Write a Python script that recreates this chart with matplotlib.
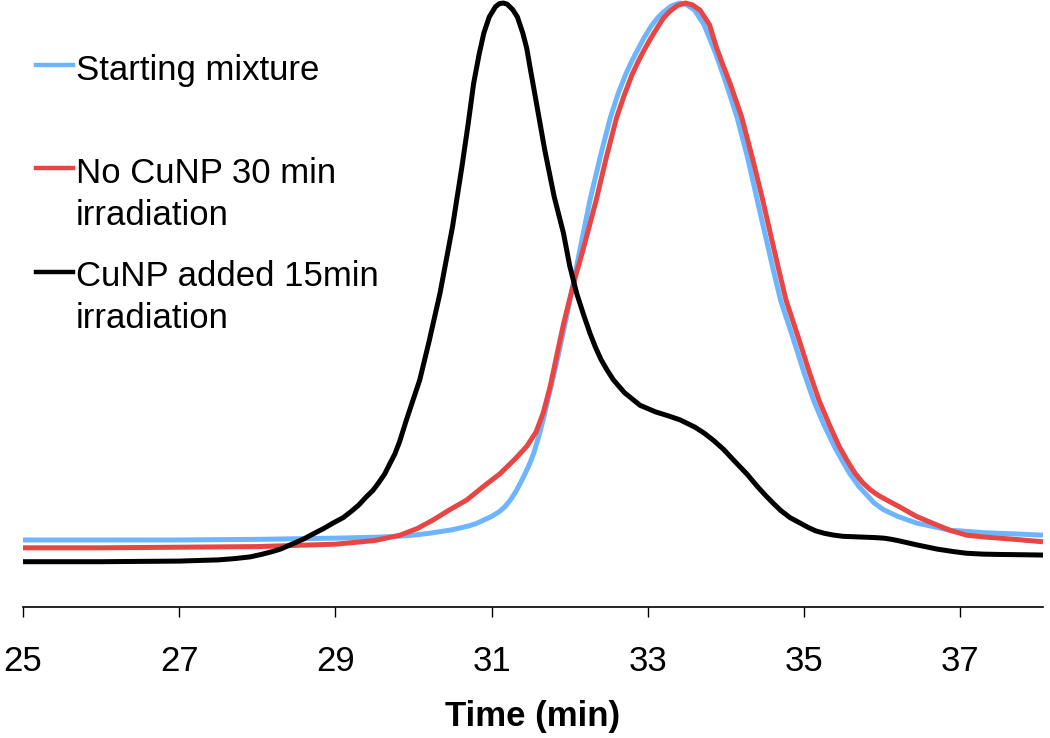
import matplotlib.pyplot as plt
from matplotlib.lines import Line2D

plt.rcParams["font.family"] = ["Liberation Sans", "DejaVu Sans"]

# Starting mixture (blue)
start_x = [25.0, 26.0, 27.0, 28.0, 29.0, 29.5, 29.8, 30.0, 30.2, 30.35, 30.5, 30.6,
           30.7, 30.8, 30.9, 31.0, 31.1, 31.17, 31.24, 31.31, 31.38, 31.44, 31.49,
           31.54, 31.58, 31.62, 31.66, 31.75, 31.85, 31.96, 32.04, 32.13, 32.26,
           32.4, 32.52, 32.62, 32.72, 32.8, 32.86, 32.95, 33.05, 33.13, 33.2, 33.3,
           33.41, 33.5, 33.6, 33.72, 33.84, 33.92, 34.0, 34.14, 34.28, 34.39, 34.5,
           34.6, 34.7, 34.86, 35.0, 35.12, 35.25, 35.4, 35.5, 35.59, 35.7, 35.8, 35.9,
           36.02, 36.2, 36.44, 36.66, 36.87, 37.0, 37.3, 37.7, 38.06]
start_y = [11.1, 11.1, 11.1, 11.2, 11.4, 11.55, 11.7, 11.9, 12.2, 12.5, 12.8, 13.1,
           13.4, 13.8, 14.4, 15.0, 15.8, 16.6, 17.7, 19.1, 20.8, 22.4, 23.8,
           25.5, 27.2, 29.0, 31.0, 35.9, 41.5, 48.1, 53.2, 59.1, 67.4,
           75.0, 81.0, 85.0, 88.3, 90.5, 92.0, 94.2, 96.3, 97.6, 98.5, 99.5,
           100.0, 99.7, 98.8, 96.4, 92.6, 89.8, 86.8, 81.2, 74.3, 68.0, 61.8,
           56.2, 50.8, 44.5, 38.8, 34.3, 30.3, 26.3, 24.0, 22.0, 20.0, 18.6, 17.2,
           16.1, 15.0, 13.9, 13.3, 12.7, 12.6, 12.3, 12.1, 11.9]

# No CuNP 30 min irradiation (red)
nocu_x = [25.0, 26.0, 27.0, 28.0, 29.0, 29.5, 29.83, 30.05, 30.25, 30.45, 30.68, 30.9,
          31.11, 31.3, 31.45, 31.57, 31.66, 31.75, 31.84, 31.92, 32.0, 32.08, 32.17,
          32.34, 32.47, 32.6, 32.7, 32.8, 32.88, 32.94, 33.03, 33.13, 33.2, 33.28,
          33.38, 33.48, 33.57, 33.67, 33.79, 33.88, 33.96, 34.05, 34.2, 34.34, 34.46,
          34.57, 34.67, 34.77, 34.93, 35.07, 35.19, 35.32, 35.45, 35.55, 35.65, 35.75,
          35.85, 35.95, 36.06, 36.22, 36.44, 36.66, 36.87, 37.08, 37.3, 37.7, 38.06]
nocu_y = [9.8, 9.8, 9.9, 10.0, 10.4, 11.0, 11.9, 13.0, 14.4, 16.0, 17.7, 20.0,
          22.1, 24.5, 26.6, 29.0, 32.1, 36.5, 42.0, 46.8, 51.0, 55.0, 59.1,
          67.4, 74.5, 81.0, 84.8, 88.2, 90.4, 91.9, 94.0, 96.1, 97.5, 98.6,
          99.6, 100.0, 99.7, 98.8, 96.4, 92.6, 89.8, 86.8, 81.2, 74.3, 68.0,
          61.8, 56.2, 50.8, 44.5, 38.8, 34.3, 30.3, 26.6, 24.3, 22.2, 20.6,
          19.4, 18.5, 17.7, 16.6, 15.0, 13.8, 12.7, 11.9, 11.6, 11.2, 10.8]

# CuNP added 15min irradiation (black)
cunp_x = [25.0, 26.0, 27.0, 27.5, 27.7, 27.91, 28.05, 28.2, 28.3, 28.46, 28.6, 28.7,
          28.85, 28.97, 29.1, 29.2, 29.3, 29.4, 29.48, 29.55, 29.63, 29.7, 29.76,
          29.82, 29.91, 30.0, 30.08, 30.2, 30.34, 30.5, 30.62, 30.7, 30.77, 30.84,
          30.9, 30.97, 31.05, 31.1, 31.15, 31.2, 31.27, 31.33, 31.4, 31.45, 31.49,
          31.58, 31.68, 31.8, 31.92, 32.0, 32.09, 32.18, 32.26, 32.33, 32.4, 32.48,
          32.56, 32.7, 32.9, 33.1, 33.25, 33.41, 33.6, 33.72, 33.84, 33.97, 34.1,
          34.27, 34.4, 34.52, 34.62, 34.7, 34.82, 34.95, 35.05, 35.15, 35.26, 35.38,
          35.5, 35.7, 35.9, 36.02, 36.1, 36.2, 36.44, 36.7, 36.9, 37.08, 37.3, 37.5,
          37.8, 38.06]
cunp_y = [7.5, 7.5, 7.6, 7.8, 8.0, 8.3, 8.7, 9.2, 9.6, 10.5, 11.3, 12.0,
          13.0, 13.9, 14.8, 15.8, 16.9, 18.3, 19.3, 20.5, 22.0, 23.8, 25.3,
          27.3, 31.0, 34.5, 37.6, 44.0, 52.0, 63.0, 72.9, 80.0, 86.7, 91.5,
          95.0, 97.7, 99.4, 99.9, 100.0, 99.8, 98.9, 97.7, 95.0, 92.5, 89.5,
          83.0, 75.7, 68.0, 61.9, 56.5, 51.9, 48.3, 45.3, 43.0, 41.0, 39.2,
          37.6, 35.5, 33.4, 32.3, 31.7, 31.0, 29.8, 28.8, 27.6, 26.1, 24.3,
          22.0, 20.0, 18.3, 17.0, 16.0, 14.8, 13.9, 13.2, 12.6, 12.2, 11.9,
          11.7, 11.6, 11.5, 11.4, 11.25, 11.0, 10.3, 9.6, 9.2, 8.9, 8.75, 8.7,
          8.65, 8.6]

labels = ["Starting mixture", "No CuNP 30 min\nirradiation", "CuNP added 15min\nirradiation"]
colors = ["#6DB6FF", "#E84545", "#000000"]

W, H = 1050, 738
fig = plt.figure(figsize=(W / 100, H / 100), dpi=100)
ax = fig.add_axes([23 / W, (H - 607) / H, (1043 - 23) / W, 607 / H])

series = [(start_x, start_y), (nocu_x, nocu_y), (cunp_x, cunp_y)]
for (xs, ys), c in zip(series, colors):
    ax.plot(xs, ys, color=c, lw=3.6, solid_capstyle="butt",
            solid_joinstyle="round", clip_on=False)

ax.set_xlim(25, 38.06)
ax.set_ylim(0, 100.5)
ax.set_xticks([25, 27, 29, 31, 33, 35, 37])
ax.tick_params(axis="x", length=7.5, width=1, labelsize=25, pad=20)
ax.set_yticks([])
for s in ["left", "right", "top"]:
    ax.spines[s].set_visible(False)
ax.spines["bottom"].set_linewidth(1.2)
ax.set_xlabel("Time (min)", fontsize=25, fontweight="bold", labelpad=16)

# legend drawn by hand, handle next to the first text line
# (va="baseline" on multi-line text pins the last line)
line_y = [65, 168, 272]
text_base = [80, 225, 328]
for lab, c, ly, tb in zip(labels, colors, line_y, text_base):
    fig.add_artist(Line2D([36 / W, 73 / W], [1 - ly / H, 1 - ly / H], color=c, lw=3.2))
    fig.text(76 / W, 1 - tb / H, lab, fontsize=25, va="baseline", ha="left",
             linespacing=1.34)

fig.savefig("out.png", dpi=100)
